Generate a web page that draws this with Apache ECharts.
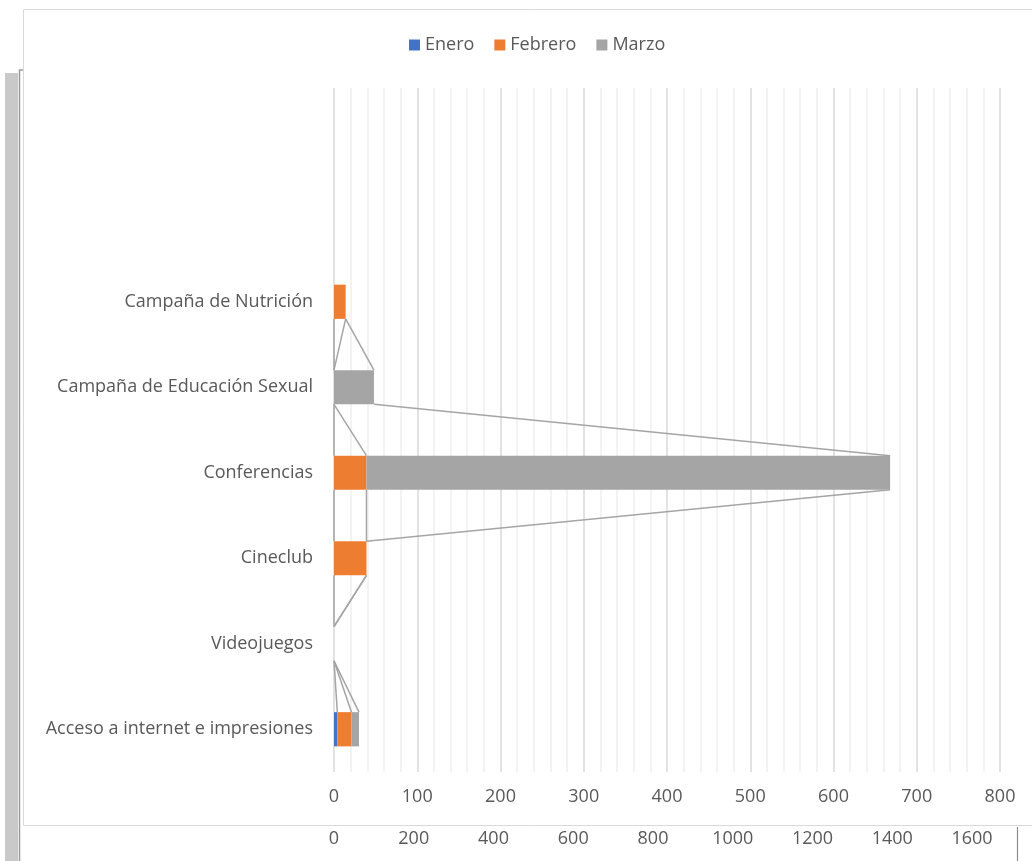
<!DOCTYPE html>
<html>
<head>
<meta charset="utf-8">
<script src="https://cdn.jsdelivr.net/npm/echarts@6/dist/echarts.min.js"></script>
<style>
html,body{margin:0;padding:0;background:#fff;}
#chart{width:1032px;height:861px;}
</style>
</head>
<body>
<div id="chart"></div>
<script>
// Categories listed bottom to top (two empty slots at the top)
const categories = ['Acceso a internet e impresiones', 'Videojuegos', 'Cineclub', 'Conferencias', 'Campaña de Educación Sexual', 'Campaña de Nutrición', '', ' '];
const seriesNames = ['Enero', 'Febrero', 'Marzo'];
const enero   = [4, 0, 0, 0, 0, 0, null, null];
const febrero = [17, 0, 39, 39, 0, 14, null, null];
const marzo   = [9, 0, 0, 629, 48, 0, null, null];
const primaryTicks = [0, 100, 200, 300, 400, 500, 600, 700, 800];
const secondaryTicks = [0, 200, 400, 600, 800, 1000, 1200, 1400, 1600];

const colors = ['#4472C4', '#ED7D31', '#A5A5A5'];
const values = [enero, febrero, marzo];
const FONT = 'Open Sans';
const TXT = '#595959';
const FS = 18;

// series lines: connect cumulative segment ends of adjacent categories
const seriesLineData = [];
for (let i = 0; i < categories.length - 1; i++) {
  if (enero[i] == null || enero[i + 1] == null) continue;
  let cLow = 0, cHigh = 0;
  for (let s = 0; s < values.length; s++) {
    cLow += values[s][i];
    cHigh += values[s][i + 1];
    seriesLineData.push([i, cLow, cHigh]);
  }
}

const chart = echarts.init(document.getElementById('chart'));
const option = {
  backgroundColor: '#fff',
  animation: false,
  color: colors,
  textStyle: { fontFamily: FONT },
  legend: {
    data: seriesNames,
    left: 404,
    top: 31,
    icon: 'rect',
    itemWidth: 11,
    itemHeight: 11,
    itemGap: 20,
    textStyle: { fontSize: FS, color: TXT, fontFamily: FONT }
  },
  graphic: [
    { type: 'rect', z: -10, shape: { x: 5, y: 73, width: 13, height: 800 }, style: { fill: '#c9c9c9' } },
    { type: 'polyline', z: -10, shape: { points: [[23, 70], [19.5, 70], [19.5, 861]] }, style: { stroke: '#9a9a9a', lineWidth: 1.5, fill: null } },
    { type: 'polyline', z: -10, shape: { points: [[1040, 9.5], [23.5, 9.5], [23.5, 825.5], [1040, 825.5]] }, style: { stroke: '#d9d9d9', lineWidth: 1, fill: null } },
    { type: 'line', z: -10, shape: { x1: 1017.5, y1: 827, x2: 1017.5, y2: 861 }, style: { stroke: '#8c8c8c', lineWidth: 1.2 } }
  ],
  grid: [
    { left: 334, right: 32, top: 88, bottom: 89 },
    { left: 334, right: 60, top: 88, bottom: 35 }
  ],
  xAxis: [
    {
      type: 'value', gridIndex: 0, min: 0, max: 800, interval: 100,
      axisLine: { show: false }, axisTick: { show: false },
      axisLabel: { fontSize: FS, color: TXT, margin: 16, fontFamily: FONT,
        formatter: function (v) { return primaryTicks.indexOf(v) >= 0 ? String(v) : ''; } },
      splitLine: { show: true, lineStyle: { color: '#d9d9d9', width: 1.5 } },
      minorTick: { show: false, splitNumber: 5 },
      minorSplitLine: { show: true, lineStyle: { color: '#f0f0f0', width: 1.5 } }
    },
    {
      type: 'value', gridIndex: 1, min: 0, max: 1600, interval: 200,
      axisLine: { show: false }, axisTick: { show: false },
      axisLabel: { fontSize: FS, color: TXT, margin: 4, fontFamily: FONT,
        formatter: function (v) { return secondaryTicks.indexOf(v) >= 0 ? String(v) : ''; } },
      splitLine: { show: false }
    }
  ],
  yAxis: [
    {
      type: 'category', gridIndex: 0, data: categories,
      axisLine: { show: false }, axisTick: { show: false },
      axisLabel: { fontSize: FS, color: TXT, margin: 21, fontFamily: FONT }
    },
    {
      type: 'value', gridIndex: 1, show: false, min: 0, max: 1
    }
  ],
  series: seriesNames.map((name, s) => ({
    name: name,
    type: 'bar',
    stack: 'total',
    xAxisIndex: 0, yAxisIndex: 0,
    barWidth: '40%',
    itemStyle: { color: colors[s] },
    data: values[s]
  })).concat([{
    type: 'custom',
    name: 'seriesLines',
    xAxisIndex: 0, yAxisIndex: 0,
    silent: true,
    z: 1,
    encode: { x: [1, 2], y: 0 },
    data: seriesLineData,
    renderItem: function (params, api) {
      const i = api.value(0);
      const band = api.size([0, 1])[1];
      const half = band * 0.2;
      const p1 = api.coord([api.value(1), i]);
      const p2 = api.coord([api.value(2), i + 1]);
      return {
        type: 'line',
        shape: { x1: p1[0], y1: p1[1] - half, x2: p2[0], y2: p2[1] + half },
        style: { stroke: '#a5a5a5', lineWidth: 1.5 }
      };
    }
  }])
};
chart.setOption(option);
</script>
</body>
</html>
